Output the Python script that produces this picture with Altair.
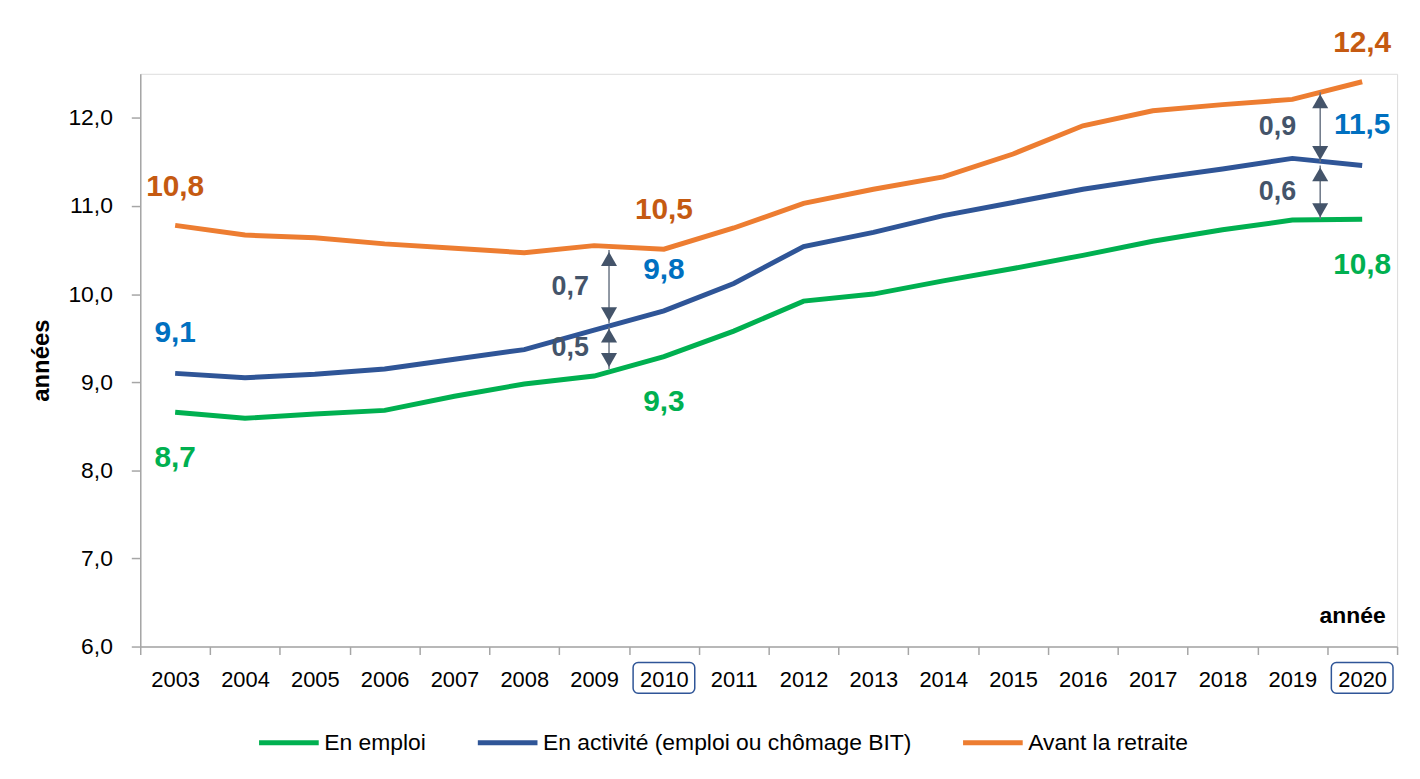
import altair as alt
import pandas as pd

years = [str(y) for y in range(2003, 2021)]
en_emploi = [8.66, 8.59, 8.64, 8.68, 8.84, 8.98, 9.07, 9.29, 9.58, 9.92, 10.00, 10.15, 10.29, 10.44, 10.60, 10.73, 10.84, 10.85]
en_activite = [9.10, 9.05, 9.09, 9.15, 9.26, 9.37, 9.59, 9.81, 10.12, 10.54, 10.70, 10.89, 11.04, 11.19, 11.31, 11.42, 11.54, 11.46]
avant_retraite = [10.78, 10.67, 10.64, 10.57, 10.52, 10.47, 10.55, 10.51, 10.75, 11.03, 11.19, 11.33, 11.59, 11.91, 12.08, 12.15, 12.21, 12.41]

series_names = ["En emploi", "En activité (emploi ou chômage BIT)", "Avant la retraite"]
series_colors = ["#00B050", "#2F5597", "#ED7D31"]
label_colors = ["#00B050", "#0070C0", "#C55A11"]

label_years = ["2003", "2010", "2020"]
emploi_labels = ["8,7", "9,3", "10,8"]
activite_labels = ["9,1", "9,8", "11,5"]
retraite_labels = ["10,8", "10,5", "12,4"]

arrow_years_2009 = ["2009", "2009"]
arrow_top_2009 = [10.50, 9.63]
arrow_bottom_2009 = [9.67, 9.15]
arrow_labels_2009 = ["0,7", "0,5"]

arrow_years_2019 = ["2019", "2019"]
arrow_top_2019 = [12.29, 11.46]
arrow_bottom_2019 = [11.50, 10.85]
arrow_labels_2019 = ["0,9", "0,6"]

boxed_years = ["2010", "2020"]

W, H = 1264, 576
FONT = "Liberation Sans"
ARROW = "#44546A"

rows = []
for name, vals in zip(series_names, [en_emploi, en_activite, avant_retraite]):
    for y, v in zip(years, vals):
        rows.append({"annee": y, "valeur": v, "serie": name})
df = pd.DataFrame(rows)

xscale = alt.Scale(type="band", domain=years, paddingInner=0, paddingOuter=0)
yscale = alt.Scale(domain=[6, 12.5], nice=False, zero=False)

xenc = alt.X("annee:N", scale=xscale, sort=years,
             axis=alt.Axis(title="année", tickBand="extent", labelAngle=0,
                           labelFont=FONT, labelFontSize=22, labelColor="#000000",
                           labelPadding=15, tickSize=8, tickColor="#A6A6A6",
                           domainColor="#A6A6A6", domainWidth=1.5, tickWidth=1.5,
                           titleFont=FONT, titleFontSize=23, titleFontWeight="bold",
                           titleAnchor="end", titleAlign="right", titleX=W - 12,
                           titleY=-24, titleBaseline="alphabetic", grid=False))
yenc = alt.Y("valeur:Q", scale=yscale,
             axis=alt.Axis(title="années", values=[6, 7, 8, 9, 10, 11, 12],
                           labelExpr="replace(format(datum.value, '.1f'), '.', ',')",
                           labelFont=FONT, labelFontSize=23, labelColor="#000000",
                           labelPadding=19, tickSize=9, tickColor="#A6A6A6",
                           domainColor="#A6A6A6", domainWidth=1.5, tickWidth=1.5,
                           titleFont=FONT, titleFontSize=24, titleFontWeight="bold",
                           titlePadding=14, grid=False))

lines = alt.Chart(df).mark_line(strokeWidth=5).encode(
    x=xenc,
    y=yenc,
    color=alt.Color("serie:N", scale=alt.Scale(domain=series_names, range=series_colors),
                    legend=alt.Legend(title=None, orient="none", direction="horizontal",
                                      legendX=117, legendY=640, symbolType="stroke",
                                      symbolSize=3600, symbolStrokeWidth=5,
                                      labelFont=FONT, labelFontSize=23, labelColor="#000000",
                                      labelOffset=3, columnPadding=41, columns=3,
                                      labelLimit=600)),
)

layers = [lines]

# value labels
for name, labs, col, dy in zip(series_names, [emploi_labels, activite_labels, retraite_labels],
                                label_colors, [46, -41, -39]):
    vals = dict(zip(years, df[df.serie == name].valeur))
    ldf = pd.DataFrame({"annee": label_years, "valeur": [vals[y] for y in label_years], "txt": labs})
    layers.append(alt.Chart(ldf).mark_text(font=FONT, fontSize=30, fontWeight="bold",
                                           color=col, dy=dy).encode(
        x=alt.X("annee:N", scale=xscale, sort=years),
        y=alt.Y("valeur:Q", scale=yscale),
        text="txt:N"))


def arrows(yrs, tops, bottoms, labs, xoff, dx):
    adf = pd.DataFrame({"annee": yrs, "top": tops, "bottom": bottoms, "txt": labs,
                        "mid": [(a + b) / 2 for a, b in zip(tops, bottoms)]})
    xe = alt.X("annee:N", scale=xscale, sort=years)
    base = alt.Chart(adf)
    return [
        base.mark_rule(color="#6B7585", strokeWidth=1.5, xOffset=xoff).encode(
            x=xe, y=alt.Y("top:Q", scale=yscale), y2="bottom:Q"),
        base.mark_point(shape="triangle-up", filled=True, opacity=1, color=ARROW,
                        size=260, xOffset=xoff, yOffset=9).encode(
            x=xe, y=alt.Y("top:Q", scale=yscale)),
        base.mark_point(shape="triangle-down", filled=True, opacity=1, color=ARROW,
                        size=260, xOffset=xoff, yOffset=-9).encode(
            x=xe, y=alt.Y("bottom:Q", scale=yscale)),
        base.mark_text(font=FONT, fontSize=27, fontWeight="bold", color=ARROW,
                       dx=xoff + dx).encode(
            x=xe, y=alt.Y("mid:Q", scale=yscale), text="txt:N"),
    ]


layers += arrows(arrow_years_2009, arrow_top_2009, arrow_bottom_2009, arrow_labels_2009, 15, -39)
layers += arrows(arrow_years_2019, arrow_top_2019, arrow_bottom_2019, arrow_labels_2019, 28, -43)

bdf = pd.DataFrame({"annee": boxed_years})
layers.append(alt.Chart(bdf).mark_rect(width=62, fillOpacity=0, stroke="#2F5597", strokeWidth=1.5,
                                       cornerRadius=5).encode(
    x=alt.X("annee:N", scale=xscale, sort=years), y=alt.value(H + 16), y2=alt.value(H + 47)))

chart = alt.layer(*layers).properties(
    width=W, height=H,
    autosize=alt.AutoSizeParams(type="none"),
    padding={"left": 133, "top": 64, "right": 15, "bottom": 125},
).configure_view(stroke=None).configure(background="#FFFFFF")

chart.save("out.html", embed_options={"renderer": "svg", "actions": False})
